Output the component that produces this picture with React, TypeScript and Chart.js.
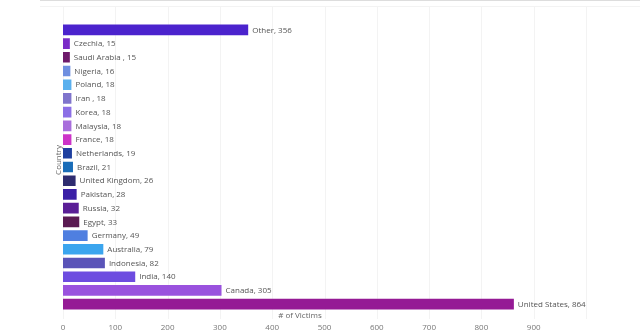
import React, { useEffect, useRef } from "react";
import { Chart, registerables } from "chart.js";

Chart.register(...registerables);

const countries = [
  "Other", "Czechia", "Saudi Arabia ", "Nigeria", "Poland", "Iran ", "Korea", "Malaysia",
  "France", "Netherlands", "Brazil", "United Kingdom", "Pakistan", "Russia", "Egypt",
  "Germany", "Australia", "Indonesia", "India", "Canada", "United States",
];
const victims = [356, 15, 15, 16, 18, 18, 18, 18, 18, 19, 21, 26, 28, 32, 33, 49, 79, 82, 140, 305, 864];
const barColors = [
  "#4B23CD", "#7B2CC8", "#6E1A6A", "#6F8FE0", "#5AB0EE", "#7F74CC", "#8C6FE6", "#A86EDC",
  "#CC33C8", "#1F3F9F", "#1A6DB8", "#2E2C70", "#3A1FA6", "#5A1E96", "#5A1A52",
  "#4F7FE0", "#3BA5EE", "#5A54B8", "#6D4CE0", "#9A52DE", "#951A95",
];
const xTicks = [0, 100, 200, 300, 400, 500, 600, 700, 800, 900];
const xTitle = "# of Victims";
const yTitle = "Country";

const FONT = "'Open Sans', 'Noto Sans', sans-serif";

const decorPlugin = {
  id: "decor",
  beforeDatasetsDraw(chart: any) {
    const { ctx, chartArea, scales } = chart;
    const x = scales.x;
    ctx.save();
    ctx.strokeStyle = "#f3f3f3";
    ctx.lineWidth = 1;
    for (const v of [...xTicks, 1000]) {
      const px = Math.round(x.getPixelForValue(v)) + 0.5;
      ctx.beginPath();
      ctx.moveTo(px, 6);
      ctx.lineTo(px, chartArea.bottom + 8);
      ctx.stroke();
    }
    ctx.beginPath();
    ctx.moveTo(40, 6.5);
    ctx.lineTo(640, 6.5);
    ctx.stroke();
    ctx.strokeStyle = "#dddddd";
    ctx.beginPath();
    ctx.moveTo(40, 0.5);
    ctx.lineTo(640, 0.5);
    ctx.stroke();
    ctx.restore();
  },
  afterDatasetsDraw(chart: any) {
    const { ctx, chartArea } = chart;
    const meta = chart.getDatasetMeta(0);
    ctx.save();
    ctx.font = `8px ${FONT}`;
    ctx.fillStyle = "#555555";
    ctx.textBaseline = "middle";
    ctx.textAlign = "left";
    meta.data.forEach((bar: any, i: number) => {
      ctx.fillText(`${countries[i]}, ${victims[i]}`, bar.x + 3, bar.y + 0.5);
    });
    ctx.textAlign = "center";
    ctx.fillStyle = "#666666";
    ctx.fillText(xTitle, 300, chartArea.bottom + 5);
    ctx.translate(59, 160);
    ctx.rotate(-Math.PI / 2);
    ctx.fillText(yTitle, 0, 0);
    ctx.restore();
  },
};

export default function App() {
  const ref = useRef<HTMLCanvasElement>(null);
  useEffect(() => {
    document.body.style.margin = "0";
    const chart = new Chart(ref.current!, {
      type: "bar",
      data: {
        labels: countries,
        datasets: [
          {
            data: victims,
            backgroundColor: barColors,
            borderColor: "rgba(255,255,255,0.3)",
            borderWidth: 1,
            barPercentage: 1,
            categoryPercentage: 0.92,
          },
        ],
      },
      options: {
        indexAxis: "y",
        animation: false,
        responsive: false,
        maintainAspectRatio: false,
        layout: { padding: { left: 63, top: 23, right: 54, bottom: 0 } },
        plugins: { legend: { display: false }, tooltip: { enabled: false } },
        scales: {
          x: {
            min: 0,
            max: 1000,
            afterBuildTicks: (s: any) => {
              s.ticks = xTicks.map((v) => ({ value: v }));
            },
            afterFit: (s: any) => {
              s.height = 23;
            },
            grid: { display: false, drawTicks: false },
            border: { display: false },
            ticks: {
              padding: 12,
              color: "#777777",
              font: { size: 8, family: FONT },
            },
          },
          y: {
            display: false,
          },
        },
      },
      plugins: [decorPlugin],
    });
    return () => chart.destroy();
  }, []);
  return <canvas ref={ref} width={640} height={334} style={{ display: "block" }} />;
}
